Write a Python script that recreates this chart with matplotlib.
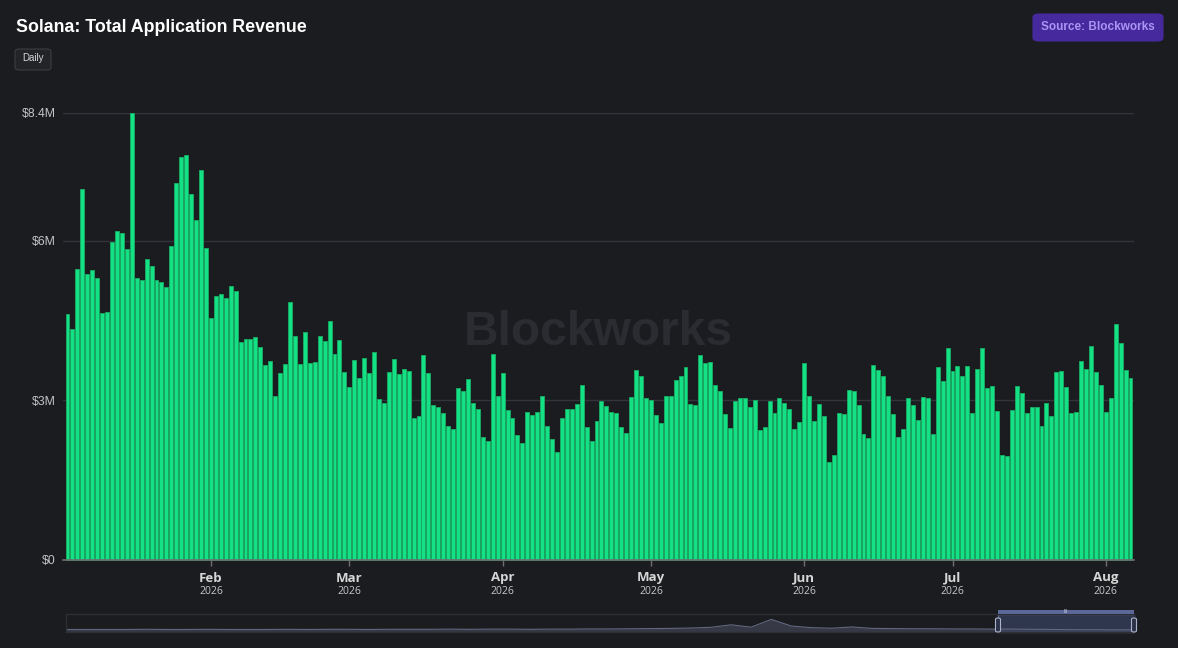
import numpy as np
import pandas as pd
import matplotlib
matplotlib.use("Agg")
import matplotlib.pyplot as plt
import matplotlib.dates as mdates
from matplotlib.patches import FancyBboxPatch, Rectangle
from matplotlib.transforms import blended_transform_factory

# daily revenue, $M, Jan 3 2026 -> Aug 6 2026
revenue = [
    4.61, 4.33, 5.47, 6.97, 5.37, 5.45, 5.30, 4.64, 4.65, 5.98, 6.18, 6.15, 5.84, 8.40,
    5.30, 5.25, 5.65, 5.53, 5.25, 5.22, 5.13, 5.90, 7.09, 7.57, 7.61, 6.87, 6.38, 7.32,
    5.86, 4.55, 4.95, 5.00, 4.92, 5.15, 5.05, 4.10, 4.15, 4.15, 4.19, 3.99, 3.65, 3.74,
    3.08, 3.50, 3.67, 4.85, 4.20, 3.68, 4.28, 3.69, 3.72, 4.21, 4.12, 4.49, 3.87,
    4.13, 3.53, 3.25, 3.76, 3.42, 3.79, 3.50, 3.91, 3.02, 2.94, 3.53, 3.78, 3.49, 3.59,
    3.55, 2.66, 2.70, 3.85, 3.51, 2.91, 2.87, 2.75, 2.52, 2.46, 3.23, 3.17, 3.40,
    2.95, 2.83, 2.31, 2.22, 3.86, 3.07, 3.50, 2.82, 2.66, 2.35, 2.20, 2.77, 2.72, 2.78,
    3.08, 2.52, 2.26, 2.03, 2.66, 2.84, 2.83, 2.92, 3.29, 2.50, 2.23, 2.61, 2.99,
    2.88, 2.78, 2.76, 2.50, 2.38, 3.06, 3.57, 3.45, 3.03, 3.00, 2.71, 2.56, 3.08, 3.07,
    3.38, 3.46, 3.63, 2.92, 2.91, 3.84, 3.69, 3.71, 3.29, 3.17, 2.73, 2.48, 2.98, 3.03,
    3.03, 2.87, 3.01, 2.43, 2.50, 2.98, 2.76, 3.04, 2.95, 2.83, 2.45, 2.58, 3.69, 3.07,
    2.60, 2.93, 2.70, 1.84, 1.97, 2.75, 2.74, 3.18, 3.17, 2.91, 2.37, 2.29, 3.65,
    3.57, 3.45, 3.08, 2.73, 2.31, 2.46, 3.03, 2.90, 2.63, 3.06, 3.03, 2.37, 3.62, 3.35,
    3.97, 3.55, 3.64, 3.46, 3.64, 2.76, 3.59, 3.98, 3.23, 3.27, 2.80, 1.97, 1.95,
    2.82, 3.27, 3.13, 2.75, 2.87, 2.87, 2.51, 2.94, 2.70, 3.52, 3.54, 3.24, 2.75, 2.77,
    3.74, 3.59, 4.01, 3.52, 3.29, 2.78, 3.04, 4.43, 4.08, 3.57, 3.42,
]
start_date = "2026-01-03"

y_ticks = [0, 3e6, 6e6, 8.4e6]
y_labels = ["$0", "$3M", "$6M", "$8.4M"]

month_ticks = ["2026-02-01", "2026-03-01", "2026-04-01", "2026-05-01",
               "2026-06-01", "2026-07-01", "2026-08-01"]
month_names = ["Feb", "Mar", "Apr", "May", "Jun", "Jul", "Aug"]
month_years = ["2026"] * 7

# rough shape of the long-history overview in the zoom slider (relative height)
overview = [0.14, 0.14, 0.14, 0.14, 0.15, 0.14, 0.14, 0.15, 0.14, 0.14, 0.14, 0.15,
            0.14, 0.15, 0.15, 0.14, 0.15, 0.15, 0.15, 0.16, 0.15, 0.16, 0.16, 0.15,
            0.16, 0.16, 0.17, 0.17, 0.18, 0.19, 0.2, 0.22, 0.26, 0.4, 0.27, 0.7,
            0.33, 0.24, 0.21, 0.28, 0.2, 0.19, 0.18, 0.18, 0.17, 0.17, 0.16, 0.16,
            0.15, 0.14, 0.13, 0.13, 0.12, 0.12]

W, H = 1178, 648
BG = "#1b1c20"
GREEN = "#14e98b"
EDGE = "#17a862"

plt.rcParams["font.family"] = ["Liberation Sans", "DejaVu Sans"]

fig = plt.figure(figsize=(W / 100, H / 100), dpi=100, facecolor=BG)


def fx(px):
    return px / W


def fy(py):
    return 1 - py / H


ax_l, ax_r, ax_t, ax_b = 63, 1134, 113, 559.5
ax = fig.add_axes([fx(ax_l), fy(ax_b), fx(ax_r - ax_l), (ax_b - ax_t) / H])
ax.set_facecolor(BG)

dates = pd.date_range(start_date, periods=len(revenue), freq="D")
vals = np.array(revenue) * 1e6
ax.bar(dates, vals, width=0.8, color=GREEN, edgecolor=EDGE, linewidth=0.7,
       zorder=2, clip_on=False, alpha=0.96)

d0 = mdates.date2num(dates[0])
d1 = mdates.date2num(dates[-1])
ax.set_xlim(d0 - 0.91, d1 + 0.71)
ax.set_ylim(0, 8.4e6)

for t in y_ticks[1:]:
    ax.axhline(t, color="#34353a", linewidth=1, zorder=1)

ax.set_yticks(y_ticks)
ax.set_yticklabels(y_labels)
ax.tick_params(axis="y", length=0, pad=5, labelcolor="#c4c4c4", labelsize=8.8)

mt = mdates.date2num(pd.to_datetime(month_ticks))
ax.set_xticks(mt)
ax.set_xticklabels([])
ax.tick_params(axis="x", length=4, width=1, color="#6e6e6e", direction="out")

for s in ["top", "right", "left"]:
    ax.spines[s].set_visible(False)
ax.spines["bottom"].set_color("#6e6e6e")
ax.spines["bottom"].set_linewidth(1.2)
ax.spines["bottom"].set_zorder(4)

tr = blended_transform_factory(ax.transData, fig.transFigure)
for x, name, yr in zip(mt, month_names, month_years):
    fig.text(x, fy(578), name, transform=tr, ha="center", va="center",
             fontsize=9.5, fontweight="bold", color="#d6d6d6", family="Open Sans")
    fig.text(x, fy(592), yr, transform=tr, ha="center", va="center",
             fontsize=7.5, color="#c8c8c8", family="Open Sans")

# watermark
fig.text(fx(598), fy(332), "Blockworks", ha="center", va="center", fontsize=34.5,
         fontweight="bold", color="#2b2c31", zorder=0.5)

# title + badges
fig.text(fx(16), fy(28), "Solana: Total Application Revenue", ha="left", va="center",
         fontsize=12.8, fontweight="bold", color="white")

daily = FancyBboxPatch((fx(15), fy(70)), fx(36), 21 / H,
                       boxstyle="round,pad=0,rounding_size=0.004",
                       transform=fig.transFigure, facecolor="#232428",
                       edgecolor="#3d3e42", linewidth=0.8)
fig.add_artist(daily)
fig.text(fx(33), fy(58), "Daily", ha="center", va="center", fontsize=7,
         color="#d4d4d4")

src = FancyBboxPatch((fx(1033), fy(41)), fx(130), 27 / H,
                     boxstyle="round,pad=0,rounding_size=0.005",
                     transform=fig.transFigure, facecolor="#46299c",
                     edgecolor="#46299c", linewidth=0.8)
fig.add_artist(src)
fig.text(fx(1098), fy(27.5), "Source: Blockworks", ha="center", va="center",
         fontsize=8.5, fontweight="bold", color="#a995f4")

# zoom slider at the bottom
nav = fig.add_axes([fx(66), fy(632), fx(1134 - 66), 18 / H])
nav.set_facecolor(BG)
nav.set_xlim(0, 1)
nav.set_ylim(0, 1)
nav.set_xticks([])
nav.set_yticks([])
for s in nav.spines.values():
    s.set_color("#2e2f33")
    s.set_linewidth(1)
ox = np.linspace(0, 1, len(overview))
nav.fill_between(ox, 0, overview, color="#363945", linewidth=0)
nav.plot(ox, overview, color="#626780", linewidth=0.8)

sel0 = (998 - 66) / (1134 - 66)
nav.add_patch(Rectangle((sel0, 0), 1 - sel0, 1, facecolor="#36415f", alpha=0.75,
                        edgecolor="#6a78a6", linewidth=1, clip_on=False))
fig.add_artist(Rectangle((fx(998), fy(614)), fx(136), 4 / H, transform=fig.transFigure,
                         facecolor="#5b6897", edgecolor="none"))
fig.text(fx(1066), fy(611.5), "III", ha="center", va="center", fontsize=3.5,
         color="#d8dcf0")
for hx in [998, 1134]:
    fig.add_artist(FancyBboxPatch((fx(hx - 2.5), fy(632)), fx(5), 14 / H,
                                  boxstyle="round,pad=0,rounding_size=0.002",
                                  transform=fig.transFigure, facecolor="#2c3248",
                                  edgecolor="#aab2cc", linewidth=0.8))

fig.savefig("out.png", dpi=100, facecolor=BG)
